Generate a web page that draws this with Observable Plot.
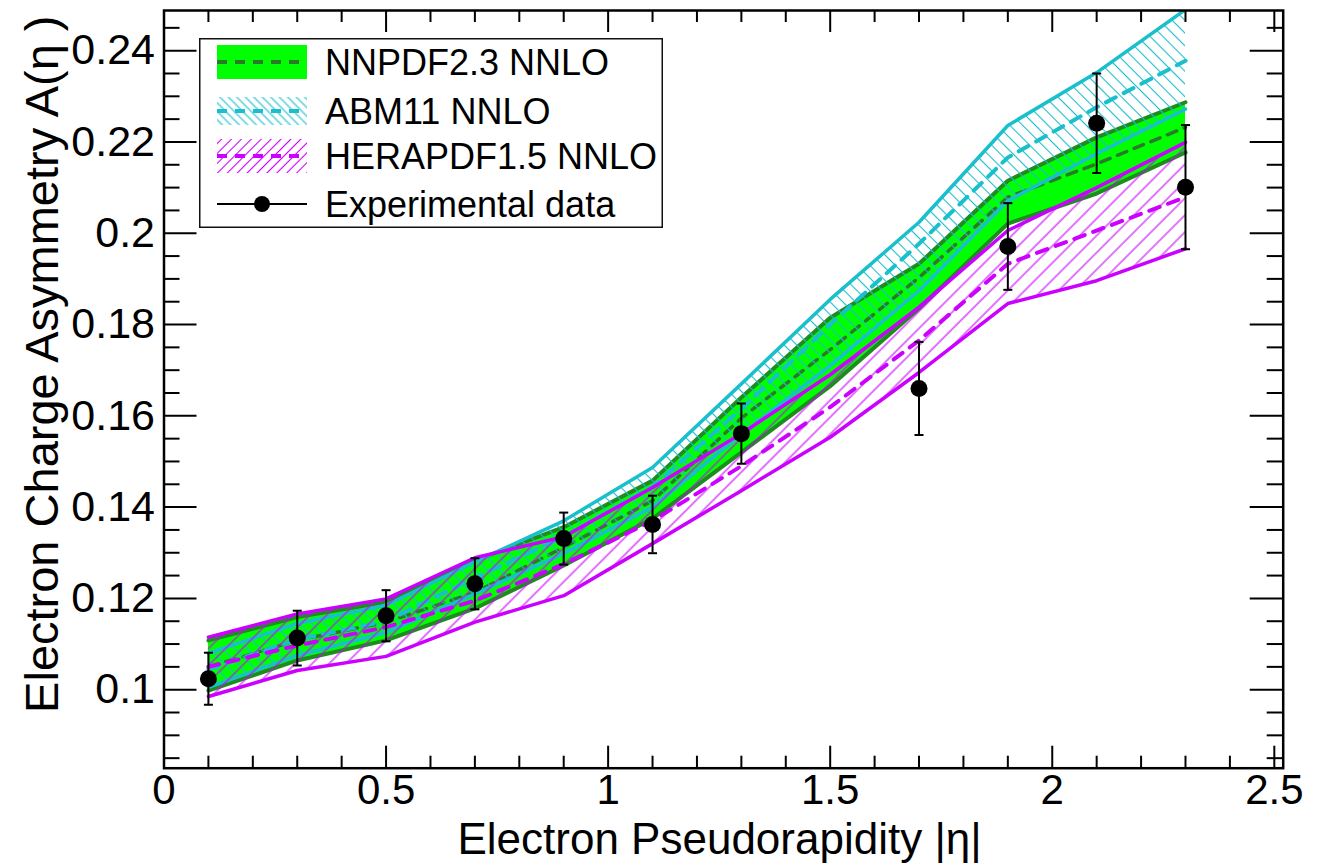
<!DOCTYPE html>
<html><head><meta charset="utf-8">
<script src="https://cdn.jsdelivr.net/npm/d3@7"></script>
<script src="https://cdn.jsdelivr.net/npm/@observablehq/plot@0.6"></script>
<style>
html,body{margin:0;padding:0;background:#fff;}
#wrap{position:relative;width:1324px;height:866px;font-family:"Liberation Sans",Arial,Helvetica,sans-serif;}
#legend{position:absolute;left:199px;top:38px;}
</style></head>
<body><div id="wrap"></div>
<script>
// ---------------- data ----------------
const eta = [0.1, 0.3, 0.5, 0.7, 0.9, 1.1, 1.3, 1.5, 1.7, 1.9, 2.1, 2.3];

const nnpdfHi = [0.1108, 0.1159, 0.1192, 0.1283, 0.1356, 0.1458, 0.1640, 0.1815, 0.1933, 0.2115, 0.2210, 0.2287];
const nnpdfLo = [0.0998, 0.1064, 0.1108, 0.1178, 0.1272, 0.1375, 0.1520, 0.1665, 0.1835, 0.2021, 0.2087, 0.2177];
const nnpdfC  = [0.1050, 0.1108, 0.1148, 0.1213, 0.1312, 0.1414, 0.1595, 0.1745, 0.1903, 0.2079, 0.2152, 0.2232];

const abmHi = [0.1080, 0.1145, 0.1185, 0.1280, 0.1370, 0.1487, 0.1670, 0.1855, 0.2024, 0.2236, 0.2352, 0.2490];
const abmLo = [0.1005, 0.1075, 0.1125, 0.1210, 0.1298, 0.1400, 0.1560, 0.1710, 0.1874, 0.2071, 0.2174, 0.2272];
const abmC  = [0.1045, 0.1110, 0.1150, 0.1245, 0.1335, 0.1445, 0.1615, 0.1800, 0.1977, 0.2166, 0.2276, 0.2378];

const heraHi = [0.1115, 0.1166, 0.1199, 0.1289, 0.1335, 0.1443, 0.1561, 0.1690, 0.1838, 0.2006, 0.2100, 0.2199];
const heraLo = [0.0985, 0.1042, 0.1073, 0.1148, 0.1206, 0.1320, 0.1436, 0.1553, 0.1695, 0.1846, 0.1896, 0.1966];
const heraC  = [0.1050, 0.1097, 0.1137, 0.1195, 0.1275, 0.1370, 0.1490, 0.1619, 0.1765, 0.1933, 0.2006, 0.2079];

const dataEta = [0.1, 0.3, 0.5, 0.7, 0.9, 1.1, 1.3, 1.7, 1.9, 2.1, 2.3];
const dataA   = [0.1024, 0.1113, 0.1162, 0.1232, 0.1331, 0.1362, 0.1561, 0.1660, 0.1971, 0.2241, 0.2101];
const dataErr = [0.0057, 0.0060, 0.0056, 0.0056, 0.0057, 0.0063, 0.0066, 0.0102, 0.0095, 0.0109, 0.0136];

const xTicks = [0, 0.5, 1, 1.5, 2, 2.5];
const xTickLabels = ["0", "0.5", "1", "1.5", "2", "2.5"];
const yTicks = [0.1, 0.12, 0.14, 0.16, 0.18, 0.2, 0.22, 0.24];
const yTickLabels = ["0.1", "0.12", "0.14", "0.16", "0.18", "0.2", "0.22", "0.24"];
const xMinor = d3.range(1, 26).map(i => i / 10).filter(v => !xTicks.some(t => Math.abs(t - v) < 1e-9));
const yMinor = d3.range(17, 50).map(i => i * 0.005).filter(v => !yTicks.some(t => Math.abs(t - v) < 1e-9));

const legendLabels = ["NNPDF2.3 NNLO", "ABM11 NNLO", "HERAPDF1.5 NNLO", "Experimental data"];
const xTitle = "Electron Pseudorapidity |η|";
const yTitle = "Electron Charge Asymmetry A(η )";

// ---------------- style ----------------
const GREEN = "#00ff00", DKGREEN = "#1f8c1f", GDASH = "#2a7a2a";
const CYAN = "#1abfcc", VIOLET = "#cc00ff";
const W = 1324, H = 866, mL = 163.5, mR = 41.3, mT = 10, mB = 98.3;
const innerW = W - mL - mR, innerH = H - mT - mB;

const band = (hi, lo, c) => eta.map((x, i) => ({x, hi: hi[i], lo: lo[i], c: c[i]}));
const nn = band(nnpdfHi, nnpdfLo, nnpdfC);
const abm = band(abmHi, abmLo, abmC);
const hera = band(heraHi, heraLo, heraC);
const pts = dataEta.map((x, i) => ({x, y: dataA[i], lo: dataA[i] - dataErr[i], hi: dataA[i] + dataErr[i]}));

const capSymbol = {draw(ctx, size) { const w = Math.sqrt(size / Math.PI); ctx.moveTo(-w, 0); ctx.lineTo(w, 0); }};

function bandMarks(d, fill, edge, edgeW, dash, dashColor, dashW) {
  return [
    Plot.areaY(d, {x: "x", y1: "lo", y2: "hi", fill, clip: true}),
    Plot.lineY(d, {x: "x", y: "hi", stroke: edge, strokeWidth: edgeW, clip: true}),
    Plot.lineY(d, {x: "x", y: "lo", stroke: edge, strokeWidth: edgeW, clip: true}),
    Plot.lineY(d, {x: "x", y: "c", stroke: dashColor, strokeWidth: dashW, strokeDasharray: dash, clip: true})
  ];
}

const svg = Plot.plot({
  width: W, height: H,
  marginLeft: mL, marginRight: mR, marginTop: mT, marginBottom: mB,
  x: {domain: [0, 2.52]},
  y: {domain: [0.0828, 0.2488]},
  style: {fontFamily: '"Liberation Sans", Arial, Helvetica, sans-serif', background: "#fff", color: "#000"},
  marks: [
    ...bandMarks(nn, GREEN, DKGREEN, 4, "10,8", GDASH, 3.5),
    ...bandMarks(abm, "url(#hatchC)", CYAN, 3.5, "11,9", CYAN, 4),
    ...bandMarks(hera, "url(#hatchM)", VIOLET, 3.5, "11,9", VIOLET, 4),
    Plot.ruleX(pts, {x: "x", y1: "lo", y2: "hi", stroke: "#000", strokeWidth: 2}),
    Plot.dot(pts, {x: "x", y: "lo", symbol: capSymbol, r: 4.5, stroke: "#000", strokeWidth: 2, fill: "none"}),
    Plot.dot(pts, {x: "x", y: "hi", symbol: capSymbol, r: 4.5, stroke: "#000", strokeWidth: 2, fill: "none"}),
    Plot.dot(pts, {x: "x", y: "y", r: 8.5, fill: "#000", stroke: "none"}),
    // ticks on all four sides, pointing inward
    Plot.ruleX(xTicks, {insetTop: innerH - 22, stroke: "#000", strokeWidth: 2}),
    Plot.ruleX(xTicks, {insetBottom: innerH - 22, stroke: "#000", strokeWidth: 2}),
    Plot.ruleX(xMinor, {insetTop: innerH - 12, stroke: "#000", strokeWidth: 2}),
    Plot.ruleX(xMinor, {insetBottom: innerH - 12, stroke: "#000", strokeWidth: 2}),
    Plot.ruleY(yTicks, {insetRight: innerW - 33, stroke: "#000", strokeWidth: 2}),
    Plot.ruleY(yTicks, {insetLeft: innerW - 33, stroke: "#000", strokeWidth: 2}),
    Plot.ruleY(yMinor, {insetRight: innerW - 16, stroke: "#000", strokeWidth: 2}),
    Plot.ruleY(yMinor, {insetLeft: innerW - 16, stroke: "#000", strokeWidth: 2}),
    Plot.frame({stroke: "#000", strokeWidth: 2.5}),
    Plot.axisX({ticks: xTicks, tickSize: 0, tickPadding: 6, fontSize: 42, label: null,
      tickFormat: d => xTickLabels[xTicks.indexOf(d)]}),
    Plot.axisY({ticks: yTicks, tickSize: 0, tickPadding: 9, fontSize: 43, label: null,
      tickFormat: d => yTickLabels[yTicks.indexOf(d)]}),
    Plot.text([xTitle], {frameAnchor: "bottom", lineAnchor: "top", dy: 55, dx: -4, fontSize: 44, fill: "#000"}),
    Plot.text([yTitle], {frameAnchor: "top-left", rotate: -90, textAnchor: "end", lineAnchor: "middle", dx: -121, dy: 5, fontSize: 47, fill: "#000"})
  ]
});

d3.select(svg).insert("defs", ":first-child").html(`
  <pattern id="hatchC" patternUnits="userSpaceOnUse" width="9" height="9" patternTransform="rotate(-45)">
    <line x1="4.5" y1="-1" x2="4.5" y2="10" stroke="${CYAN}" stroke-width="1.1"/>
  </pattern>
  <pattern id="hatchM" patternUnits="userSpaceOnUse" width="12" height="12" patternTransform="rotate(45)">
    <line x1="6" y1="-1" x2="6" y2="13" stroke="${VIOLET}" stroke-width="1.1"/>
  </pattern>`);

const wrap = document.getElementById("wrap");
wrap.appendChild(svg);

// ---------------- legend ----------------
const LW = 464, LH = 190;
const lg = d3.select(wrap).append("svg").attr("id", "legend").attr("width", LW).attr("height", LH)
  .style("font-family", '"Liberation Sans", Arial, Helvetica, sans-serif');
lg.append("defs").html(`
  <pattern id="lhatchC" patternUnits="userSpaceOnUse" width="6" height="6" patternTransform="rotate(-45)">
    <line x1="3" y1="-1" x2="3" y2="7" stroke="${CYAN}" stroke-width="1.1"/>
  </pattern>
  <pattern id="lhatchM" patternUnits="userSpaceOnUse" width="7" height="7" patternTransform="rotate(45)">
    <line x1="3.5" y1="-1" x2="3.5" y2="8" stroke="${VIOLET}" stroke-width="1.1"/>
  </pattern>`);
lg.append("rect").attr("x", 0.75).attr("y", 0.75).attr("width", LW - 1.5).attr("height", LH - 1.5)
  .attr("fill", "#fff").attr("stroke", "#111").attr("stroke-width", 1.5);
const sx0 = 18, sx1 = 108, tx = 126;
const rows = [24, 73, 118, 166];
const swatch = [
  {fill: GREEN, dash: GDASH, h: 34},
  {fill: "url(#lhatchC)", dash: CYAN, h: 28},
  {fill: "url(#lhatchM)", dash: VIOLET, h: 34}
];
swatch.forEach((s, i) => {
  const cy = rows[i];
  lg.append("rect").attr("x", sx0).attr("y", cy - s.h / 2).attr("width", sx1 - sx0).attr("height", s.h).attr("fill", s.fill);
  lg.append("line").attr("x1", sx0).attr("x2", sx1).attr("y1", cy).attr("y2", cy)
    .attr("stroke", s.dash).attr("stroke-width", 4).attr("stroke-dasharray", "10,8");
});
lg.append("line").attr("x1", sx0).attr("x2", sx1).attr("y1", rows[3]).attr("y2", rows[3]).attr("stroke", "#000").attr("stroke-width", 2);
lg.append("circle").attr("cx", (sx0 + sx1) / 2).attr("cy", rows[3]).attr("r", 8).attr("fill", "#000");
legendLabels.forEach((t, i) => {
  lg.append("text").attr("x", tx).attr("y", rows[i] + 13).attr("font-size", 36).attr("fill", "#000").text(t);
});
</script>
</body></html>
